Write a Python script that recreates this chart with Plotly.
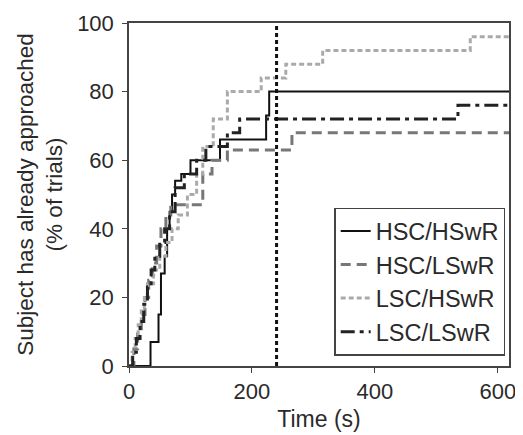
import plotly.graph_objects as go

# Step data (time in s, cumulative % of trials)
t_hh = [0, 35, 48, 52, 58, 62, 66, 70, 75, 85, 100, 148, 223, 228, 620]
y_hh = [0, 7, 15, 27, 32, 40, 45, 50, 54, 56, 60, 66, 73, 80, 80]

t_hl = [0, 8, 14, 20, 26, 32, 38, 45, 52, 60, 68, 96, 120, 135, 160, 265, 620]
y_hl = [0, 5, 10, 15, 20, 25, 30, 35, 40, 44, 47, 47, 56, 60, 63, 68, 68]

t_lh = [0, 5, 10, 15, 20, 25, 30, 40, 50, 60, 70, 80, 95, 110, 120, 137, 160, 215, 255, 315, 555, 620]
y_lh = [0, 4, 8, 12, 16, 20, 24, 28, 32, 36, 40, 44, 50, 56, 64, 72, 80, 84, 88, 92, 96, 96]

t_ll = [0, 6, 12, 18, 24, 30, 36, 42, 50, 58, 66, 75, 90, 110, 125, 160, 180, 535, 620]
y_ll = [0, 4, 8, 13, 18, 23, 28, 32, 36, 40, 45, 52, 56, 60, 64, 68, 72, 76, 76]

marker_time = 240
series_names = ["HSC/HSwR", "HSC/LSwR", "LSC/HSwR", "LSC/LSwR"]

FONT = "Liberation Sans, Arial, sans-serif"

fig = go.Figure()
fig.add_trace(go.Scatter(x=t_hh, y=y_hh, name=series_names[0], mode="lines",
                         line=dict(shape="hv", color="#111111", width=2, dash="solid")))
fig.add_trace(go.Scatter(x=t_hl, y=y_hl, name=series_names[1], mode="lines",
                         line=dict(shape="hv", color="#777777", width=3, dash="10px,6px")))
fig.add_trace(go.Scatter(x=t_lh, y=y_lh, name=series_names[2], mode="lines",
                         line=dict(shape="hv", color="#aaaaaa", width=3, dash="5px,3px")))
fig.add_trace(go.Scatter(x=t_ll, y=y_ll, name=series_names[3], mode="lines",
                         line=dict(shape="hv", color="#222222", width=3, dash="14px,5px,4px,5px")))

fig.add_shape(type="line", x0=marker_time, x1=marker_time, y0=0, y1=100,
              xref="x", yref="y", line=dict(color="#111111", width=3, dash="4px,3px"))

# page body has an 8px margin, so the figure is sized to fit the 523x435 window
fig.update_layout(
    width=515, height=427,
    margin=dict(l=121, r=14, t=15, b=69),
    paper_bgcolor="white", plot_bgcolor="white",
    font=dict(family=FONT, size=22, color="#2a2a2a"),
    showlegend=True,
    legend=dict(x=0.99, y=0.03, xanchor="right", yanchor="bottom",
                bordercolor="#444444", borderwidth=1.5, bgcolor="white",
                font=dict(size=23.5), itemwidth=30, tracegroupgap=0),
    xaxis=dict(range=[0, 618], tickvals=[0, 200, 400, 600], showgrid=False, zeroline=False,
               showline=True, mirror=True, linecolor="#444444", linewidth=1.5,
               ticks="outside", ticklen=5, tickcolor="#444444", automargin=False,
               title=dict(text="Time (s)", standoff=8, font=dict(size=23))),
    yaxis=dict(range=[0, 100], tickvals=[0, 20, 40, 60, 80, 100], showgrid=False, zeroline=False,
               showline=True, mirror=True, linecolor="#444444", linewidth=1.5,
               ticks="outside", ticklen=5, tickcolor="#444444", automargin=False,
               ticklabelstandoff=4,
               title=dict(text="Subject has already approached<br>(% of trials)", standoff=8,
                          font=dict(size=22.5))),
)

fig.write_html("out.html")
